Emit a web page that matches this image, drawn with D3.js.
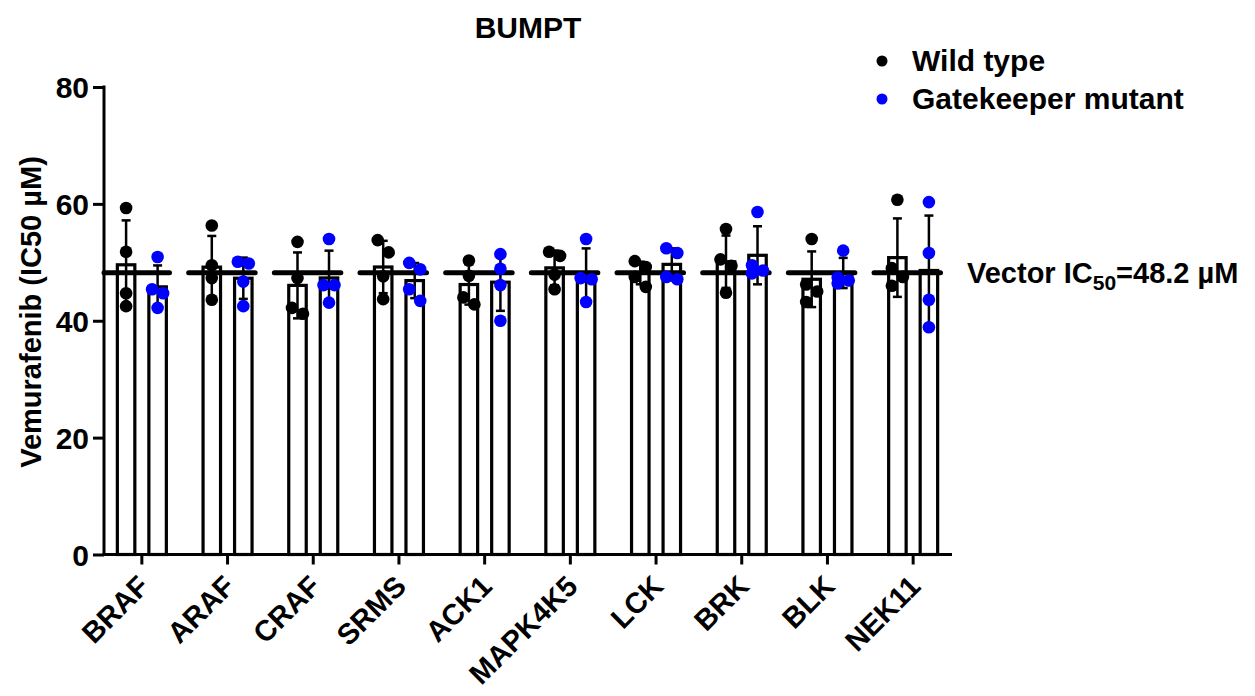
<!DOCTYPE html>
<html>
<head>
<meta charset="utf-8">
<script src="https://cdn.jsdelivr.net/npm/d3@7"></script>
<style>
  body { margin: 0; background: #fff; }
  text { font-family: "Liberation Sans", Arial, sans-serif; font-weight: bold; fill: #000; }
</style>
</head>
<body>
<svg width="1255" height="696"></svg>
<script>
var categories = ["BRAF", "ARAF", "CRAF", "SRMS", "ACK1", "MAPK4K5", "LCK", "BRK", "BLK", "NEK11"];
var seriesNames = ["Wild type", "Gatekeeper mutant"];
var seriesColors = ["#000000", "#0000ff"];

// four replicates per kinase
var wildType = [
  [59.3, 51.8, 44.7, 42.5],
  [56.3, 49.5, 47.3, 43.6],
  [53.5, 47.3, 42.2, 41.2],
  [53.8, 51.7, 47.6, 43.7],
  [50.3, 47.7, 44.0, 42.8],
  [51.8, 51.1, 47.9, 45.4],
  [50.2, 49.2, 47.5, 45.8],
  [55.7, 50.5, 49.4, 44.8],
  [54.0, 46.2, 45.0, 43.2],
  [60.7, 49.0, 47.5, 46.0]
];
var gatekeeper = [
  [50.9, 45.4, 44.7, 42.2],
  [50.1, 49.8, 46.7, 42.5],
  [54.0, 46.1, 46.1, 43.1],
  [49.9, 48.8, 45.4, 43.4],
  [51.4, 48.9, 46.1, 40.0],
  [54.0, 47.3, 47.1, 43.2],
  [52.4, 51.6, 47.5, 47.1],
  [58.6, 49.5, 48.6, 48.1],
  [52.0, 47.4, 46.9, 46.4],
  [60.3, 51.6, 43.6, 38.9]
];
var vectorIC50 = 48.2;
var yTicks = [0, 20, 40, 60, 80];

var svg = d3.select("svg");

var x = d3.scaleBand().domain(categories).range([99, 956]);
var x1 = d3.scaleBand().domain([0, 1]).range([-26, 26]).paddingInner(0.35);
var y = d3.scaleLinear().domain([0, 80]).range([554.5, 87]);

var dotR = 6.3;

// build groups: one per kinase per series
var groups = [];
categories.forEach(function(c, i) {
  [wildType[i], gatekeeper[i]].forEach(function(vals, s) {
    groups.push({
      cat: c,
      s: s,
      vals: vals,
      mean: d3.mean(vals),
      sd: d3.deviation(vals)
    });
  });
});

function cx(g) { return x(g.cat) + x.bandwidth() / 2 + x1(g.s) + x1.bandwidth() / 2; }

// bars
svg.append("g").selectAll("rect").data(groups).enter().append("rect")
  .attr("x", function(g) { return cx(g) - (x1.bandwidth() - 3) / 2; })
  .attr("width", x1.bandwidth() - 3)
  .attr("y", function(g) { return y(g.mean); })
  .attr("height", function(g) { return y(0) - y(g.mean); })
  .attr("fill", "#fff")
  .attr("stroke", "#000")
  .attr("stroke-width", 3.2);

// SD error bars
var eb = svg.append("g").attr("stroke", "#000").attr("stroke-width", 2.5);
groups.forEach(function(g) {
  var xc = cx(g);
  eb.append("line").attr("x1", xc).attr("x2", xc)
    .attr("y1", y(g.mean + g.sd)).attr("y2", y(g.mean - g.sd));
  [g.mean + g.sd, g.mean - g.sd].forEach(function(v) {
    eb.append("line").attr("x1", xc - 4.5).attr("x2", xc + 4.5)
      .attr("y1", y(v)).attr("y2", y(v));
  });
});

// axes
var yAxis = svg.append("g")
  .attr("transform", "translate(104,0)")
  .call(d3.axisLeft(y).tickValues(yTicks).tickSize(11).tickSizeOuter(0).tickPadding(4));
yAxis.select(".domain").remove();
yAxis.selectAll(".tick line").attr("stroke-width", 3);
yAxis.selectAll(".tick text").style("font-size", "30px").attr("dy", "0.36em");
svg.append("line").attr("x1", 104).attr("x2", 104)
  .attr("y1", y(0) + 1.5).attr("y2", y(80) - 1.5)
  .attr("stroke", "#000").attr("stroke-width", 3);

var xAxis = svg.append("g")
  .attr("transform", "translate(0," + y(0) + ")")
  .call(d3.axisBottom(x).tickSize(10).tickSizeOuter(0).tickFormat(""));
xAxis.select(".domain").remove();
xAxis.selectAll(".tick line").attr("stroke-width", 3);
svg.append("line").attr("x1", 102.5).attr("x2", 952)
  .attr("y1", y(0)).attr("y2", y(0))
  .attr("stroke", "#000").attr("stroke-width", 3);

svg.append("g").selectAll("text").data(categories).enter().append("text")
  .attr("transform", function(c) {
    return "translate(" + (x(c) + x.bandwidth() / 2 + 9) + ",588) rotate(-45)";
  })
  .attr("text-anchor", "end")
  .style("font-size", "29px")
  .text(function(c) { return c; });

// vector reference line
svg.append("line")
  .attr("x1", 104).attr("x2", 950)
  .attr("y1", y(vectorIC50)).attr("y2", y(vectorIC50))
  .attr("stroke", "#000").attr("stroke-width", 5)
  .attr("stroke-linecap", "round")
  .attr("stroke-dasharray", "66.5,19.17")
  .attr("stroke-dashoffset", 1);

var vt = svg.append("text").attr("x", 967).attr("y", y(vectorIC50) + 10).style("font-size", "29px");
vt.append("tspan").text("Vector IC");
vt.append("tspan").attr("dy", 7).style("font-size", "21px").text("50");
vt.append("tspan").attr("dy", -7).text("=" + vectorIC50 + " µM");

// dots, spread sideways when they touch
var dots = [];
groups.forEach(function(g) {
  var sorted = g.vals.slice().sort(d3.descending);
  var clusters = [];
  sorted.forEach(function(v, k) {
    if (k > 0 && y(v) - y(sorted[k - 1]) < 12.5) clusters[clusters.length - 1].push(v);
    else clusters.push([v]);
  });
  clusters.forEach(function(cl) {
    cl.forEach(function(v, k) {
      var off = cl.length === 1 ? 0 : (k % 2 === 0 ? -5.5 : 5.5);
      dots.push({ x: cx(g) + off, v: v, s: g.s });
    });
  });
});

svg.append("g").selectAll("circle").data(dots).enter().append("circle")
  .attr("cx", function(d) { return d.x; })
  .attr("cy", function(d) { return y(d.v); })
  .attr("r", dotR)
  .attr("fill", function(d) { return seriesColors[d.s]; });

// title
svg.append("text").attr("x", 528).attr("y", 38)
  .attr("text-anchor", "middle").style("font-size", "30px").text("BUMPT");

// y label
svg.append("text")
  .attr("transform", "translate(41,312) rotate(-90)")
  .attr("text-anchor", "middle")
  .style("font-size", "29px")
  .text("Vemurafenib (IC50 µM)");

// legend
var legend = svg.append("g").selectAll("g").data(seriesNames).enter().append("g")
  .attr("transform", function(d, i) { return "translate(882," + (61 + i * 38) + ")"; });
legend.append("circle").attr("r", 5.5).attr("fill", function(d, i) { return seriesColors[i]; });
legend.append("text").attr("x", 30).attr("y", 10).style("font-size", "30px").text(function(d) { return d; });
</script>
</body>
</html>
